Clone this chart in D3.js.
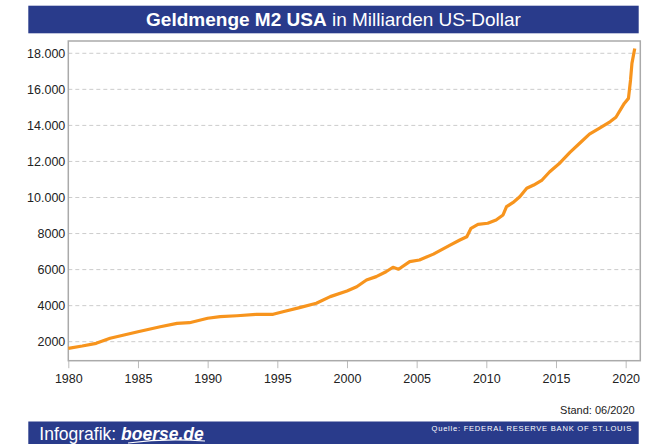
<!DOCTYPE html>
<html lang="de">
<head>
    <meta charset="UTF-8"/>
    <title>Geldmenge M2 USA</title>
    <script src="https://d3js.org/d3.v7.min.js"></script>
    <style type="text/css">
        body {
            margin: 0;
            background: #ffffff;
        }
        text {
            font-family: "Liberation Sans", Arial, sans-serif;
        }
    </style>
</head>
<body>

<svg id="main"></svg>

<script>

// data (decimal year, billion USD)
var years = [1980.0, 1981.0, 1982.0, 1983.0, 1984.0, 1985.0, 1986.6, 1987.8, 1988.7, 1990.0,
  1990.9, 1992.1, 1993.5, 1994.7, 1995.4, 1996.6, 1997.8, 1998.8, 2000.0, 2000.7,
  2001.4, 2002.1, 2002.8, 2003.3, 2003.7, 2004.5, 2005.2, 2006.2, 2007.4, 2008.1,
  2008.6, 2008.9, 2009.4, 2010.1, 2010.7, 2011.2, 2011.45, 2011.9, 2012.4, 2012.9,
  2013.4, 2014.0, 2014.55, 2015.3, 2016.0, 2016.7, 2017.4, 2018.1, 2018.9, 2019.3,
  2019.9, 2020.2, 2020.35, 2020.45, 2020.65]
var m2 = [1633, 1760, 1910, 2190, 2370, 2555, 2830, 3020, 3055, 3300,
  3390, 3440, 3520, 3520, 3665, 3890, 4130, 4500, 4810, 5050,
  5420, 5610, 5880, 6130, 6020, 6440, 6530, 6860, 7360, 7640,
  7825, 8290, 8510, 8570, 8750, 9030, 9490, 9710, 10040, 10510,
  10690, 10970, 11430, 11930, 12500, 13010, 13520, 13840, 14210, 14450,
  15220, 15500, 16520, 17440, 18270]

var xTicks = [1980, 1985, 1990, 1995, 2000, 2005, 2010, 2015, 2020]
var yTicks = [2000, 4000, 6000, 8000, 10000, 12000, 14000, 16000, 18000]
var yTickLabels = ["2000", "4000", "6000", "8000", "10.000", "12.000", "14.000", "16.000", "18.000"]

var width = 652
    height = 444
    blue = "#293b8b"
    orange = "#f7941d"

var svg = d3.select("#main")
    .attr("width", width)
    .attr("height", height)

// plot box (window.top is read-only, so no "top" here)
var boxL = 68.3, boxR = 640.3, boxT = 41, boxB = 360.7

var x = d3.scaleLinear().domain([1980, 2021.05]).range([boxL, boxR])
var y = d3.scaleLinear().domain([946, 18682]).range([boxB, boxT])

// title bar
svg.append("rect")
    .attr("x", 28.3).attr("y", 5.7)
    .attr("width", 610.4).attr("height", 27.6)
    .attr("fill", blue)

var title = svg.append("text")
    .attr("x", 333.5).attr("y", 26.3)
    .attr("text-anchor", "middle")
    .style("font-size", "19px")
    .attr("fill", "white")
title.append("tspan").style("font-weight", "bold").text("Geldmenge M2 USA")
title.append("tspan").text(" in Milliarden US-Dollar")

// dashed grid lines
svg.append("g")
  .selectAll("line")
  .data(yTicks)
  .enter()
  .append("line")
    .attr("x1", boxL).attr("x2", boxR)
    .attr("y1", function(d) { return y(d) })
    .attr("y2", function(d) { return y(d) })
    .attr("stroke", "#cccccc")
    .attr("stroke-width", 1)
    .attr("stroke-dasharray", "4,3")

// y axis labels
var yAxis = d3.axisLeft(y)
    .tickValues(yTicks)
    .tickSize(0)
    .tickPadding(3)
    .tickFormat(function(d, i) { return yTickLabels[i] })

svg.append("g")
    .attr("transform", "translate(" + boxL + ",0)")
    .call(yAxis)
    .call(function(g) { g.select(".domain").remove() })
    .selectAll("text")
    .style("font-size", "12.5px")
    .style("font-family", "Liberation Sans, Arial, sans-serif")
    .attr("fill", "#222")

// x axis with ticks below the frame
var xAxis = d3.axisBottom(x)
    .tickValues(xTicks)
    .tickSize(7.5)
    .tickPadding(6)
    .tickFormat(d3.format("d"))

var gx = svg.append("g")
    .attr("transform", "translate(0," + boxB + ")")
    .call(xAxis)
gx.select(".domain").remove()
gx.selectAll("line").attr("stroke", "#bbbbbb")
gx.selectAll("text")
    .style("font-size", "12.5px")
    .style("font-family", "Liberation Sans, Arial, sans-serif")
    .attr("fill", "#222")

// frame
svg.append("rect")
    .attr("x", boxL).attr("y", boxT)
    .attr("width", boxR - boxL).attr("height", boxB - boxT)
    .attr("fill", "none")
    .attr("stroke", "#aaaaaa")
    .attr("stroke-width", 1.5)

// M2 line
var line = d3.line()
    .x(function(d, i) { return x(years[i]) })
    .y(function(d) { return y(d) })

svg.append("path")
    .datum(m2)
    .attr("d", line)
    .attr("fill", "none")
    .attr("stroke", orange)
    .attr("stroke-width", 3.2)
    .attr("stroke-linejoin", "round")

// date note
svg.append("text")
    .attr("x", 634.7).attr("y", 414)
    .attr("text-anchor", "end")
    .style("font-size", "11px")
    .attr("fill", "#222")
    .text("Stand: 06/2020")

// footer bar
svg.append("rect")
    .attr("x", 28.3).attr("y", 421.5)
    .attr("width", 610.4).attr("height", 22.5)
    .attr("fill", blue)

var brand = svg.append("text")
    .attr("x", 39.3).attr("y", 440)
    .style("font-size", "17.5px")
    .attr("fill", "white")
brand.append("tspan").text("Infografik: ")
brand.append("tspan")
    .style("font-weight", "bold")
    .style("font-style", "italic")
    .text("boerse.de")

// little swoosh under the logo
svg.append("path")
    .attr("d", "M128,443 Q165,438 205,441")
    .attr("fill", "none")
    .attr("stroke", "white")
    .attr("stroke-width", 1.2)

svg.append("text")
    .attr("x", 632).attr("y", 431)
    .attr("text-anchor", "end")
    .style("font-size", "7.6px")
    .style("letter-spacing", "0.75px")
    .attr("fill", "white")
    .text("Quelle: FEDERAL RESERVE BANK OF ST.LOUIS")

</script>
</body>
</html>
